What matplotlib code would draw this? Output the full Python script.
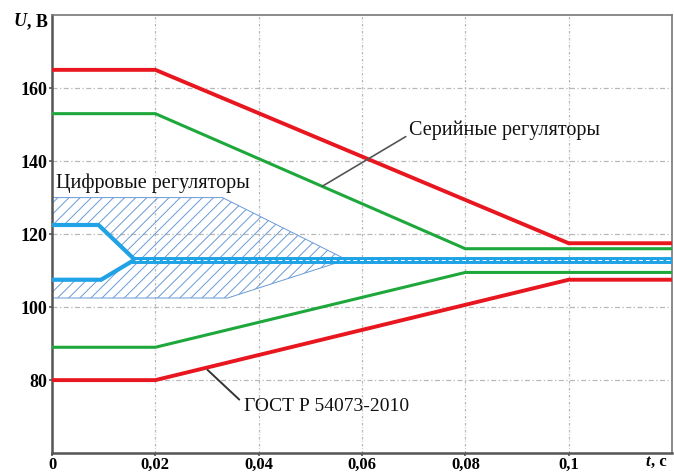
import matplotlib
matplotlib.use("Agg")
import matplotlib.pyplot as plt

plt.rcParams['font.family'] = ['Liberation Serif', 'DejaVu Serif']
plt.rcParams['hatch.linewidth'] = 0.7

# Data
t_red = [0, 0.02, 0.1, 0.12]
u_red_upper = [165, 165, 117.5, 117.5]
u_red_lower = [80, 80, 107.5, 107.5]

t_green = [0, 0.02, 0.08, 0.12]
u_green_upper = [153, 153, 116, 116]
u_green_lower = [89, 89, 109.5, 109.5]

t_dig_upper = [0, 0.009, 0.016]
u_dig_upper = [122.5, 122.5, 113]
t_dig_lower = [0, 0.0095, 0.016]
u_dig_lower = [107.5, 107.5, 113]
t_dig_center = [0.016, 0.12]
u_dig_center = [113, 113]

t_env_upper = [0, 0.033, 0.057]
u_env_upper = [130, 130, 113]
t_env_lower = [0, 0.034, 0.057]
u_env_lower = [102.5, 102.5, 113]

x_ticks = [0, 0.02, 0.04, 0.06, 0.08, 0.1]
x_tick_labels = ['0', '0,02', '0,04', '0,06', '0,08', '0,1']
y_ticks = [80, 100, 120, 140, 160]

fig = plt.figure(figsize=(6.74, 4.72), dpi=100)
ax = fig.add_axes([0.0772, 0.040, 0.9198, 0.928])
ax.set_xlim(0, 0.12)
ax.set_ylim(60, 180)

# grid
for xv in x_ticks[1:]:
    ax.axvline(xv, color='#b8b8b8', lw=0.9, ls=(0, (2, 1.5, 0.6, 1.5)), zorder=0)
for yv in y_ticks:
    ax.axhline(yv, color='#b8b8b8', lw=0.9, ls=(0, (4, 2, 1, 2)), zorder=0)

red_c = '#e8161e'
green_c = '#1ea83c'
blue_c = '#1fa2e6'
hatch_c = '#6a9ad6'

# hatched envelopes
up_x = t_env_upper + t_dig_upper[::-1]
up_y = u_env_upper + u_dig_upper[::-1]
lo_x = t_env_lower + t_dig_lower[::-1]
lo_y = u_env_lower + u_dig_lower[::-1]
ax.fill(up_x, up_y, facecolor='none', edgecolor=hatch_c, hatch='///', lw=0.7, zorder=1)
ax.fill(lo_x, lo_y, facecolor='none', edgecolor=hatch_c, hatch='///', lw=0.7, zorder=1)

# digital regulators
ax.plot(t_dig_upper, u_dig_upper, color=blue_c, lw=3, solid_joinstyle='miter', zorder=3)
ax.plot(t_dig_lower, u_dig_lower, color=blue_c, lw=3, solid_joinstyle='miter', zorder=3)
ax.plot(t_dig_center, u_dig_center, color=blue_c, lw=5, zorder=3)
ax.plot(t_dig_center, u_dig_center, color='white', lw=0.7, ls=(0, (4, 3)), zorder=4)

# serial regulators and GOST
ax.plot(t_green, u_green_upper, color=green_c, lw=2.2, zorder=3)
ax.plot(t_green, u_green_lower, color=green_c, lw=2.2, zorder=3)
ax.plot(t_red, u_red_upper, color=red_c, lw=2.8, zorder=3)
ax.plot(t_red, u_red_lower, color=red_c, lw=2.8, zorder=3)

# annotations
ax.text(0.0008, 134, 'Цифровые регуляторы', fontsize=14.5, va='center', ha='left', color='#111111')
ax.annotate('Серийные регуляторы', xy=(0.0523, 133.1), xytext=(0.0690, 148.5),
            fontsize=14.5, va='center', ha='left', color='#111111',
            arrowprops=dict(arrowstyle='-', color='#555555', lw=1.2, shrinkA=0, shrinkB=0,
                            relpos=(0, 0.25)))
ax.annotate('ГОСТ Р 54073-2010', xy=(0.0301, 82.8), xytext=(0.0372, 72.8),
            fontsize=14, va='center', ha='left', color='#111111',
            arrowprops=dict(arrowstyle='-', color='#333333', lw=1.4, shrinkA=0, shrinkB=0,
                            relpos=(-0.03, 0.9)))

# axes styling
ax.set_xticks(x_ticks)
ax.set_xticklabels(x_tick_labels, fontsize=12, fontweight='bold')
ax.set_yticks(y_ticks)
ax.set_yticklabels([str(v) for v in y_ticks], fontsize=13, fontweight='bold')
ax.tick_params(direction='out', length=2.5, width=1.2, color='#555555', pad=1)
ax.tick_params(axis='x', pad=0.5)
for s in ['left', 'bottom']:
    ax.spines[s].set_color('#555555')
    ax.spines[s].set_linewidth(1.8)
for s in ['top', 'right']:
    ax.spines[s].set_color('#777777')
    ax.spines[s].set_linewidth(1.2)

fig.text(14 / 674, 1 - 22 / 472, 'U', fontsize=13, fontweight='bold', style='italic',
         va='center', ha='left')
fig.text(27 / 674, 1 - 22 / 472, ', В', fontsize=13, fontweight='bold', va='center', ha='left')
fig.text(645 / 674, 1 - 462 / 472, 't', fontsize=12, fontweight='bold', style='italic',
         va='center', ha='left')
fig.text(651 / 674, 1 - 462 / 472, ', с', fontsize=12, fontweight='bold', va='center', ha='left')

fig.savefig('out.png', dpi=100)
